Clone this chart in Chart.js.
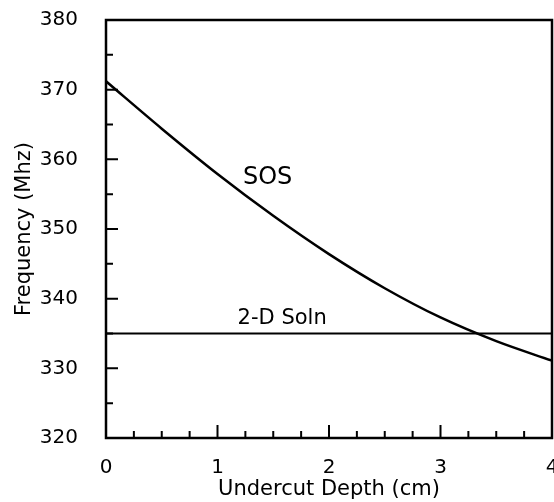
<!DOCTYPE html>
<html>
<head>
<meta charset="utf-8">
<script src="https://cdn.jsdelivr.net/npm/chart.js@4/dist/chart.umd.min.js"></script>
<style>
  html, body { margin: 0; padding: 0; background: #fff; overflow: hidden; }
  canvas { display: block; }
</style>
</head>
<body>
<canvas id="freqChart" width="554" height="502"></canvas>
<script>
// Undercut depth (cm) vs resonant frequency (MHz)
const depthCm = [0, 0.5, 1, 1.5, 2, 2.5, 3, 3.5, 4];
const sosMhz = [371.2, 364.4, 357.9, 351.9, 346.4, 341.5, 337.3, 333.9, 331.1];
const soln2dDepth = [0, 4];
const soln2dMhz = [335, 335];

// axis tick values (inward ticks drawn by plugin)
const xTickValues = [0.25, 0.5, 0.75, 1, 1.25, 1.5, 1.75, 2, 2.25, 2.5, 2.75, 3, 3.25, 3.5, 3.75];
const yTickValues = [325, 330, 335, 340, 345, 350, 355, 360, 365, 370, 375];

// curve labels, placed in data coordinates
const curveLabels = [
  { text: 'SOS', x: 1.45, y: 357.3, size: 24 },
  { text: '2-D Soln', x: 1.58, y: 337.2, size: 21 }
];

const FONT = '"DejaVu Sans", "Liberation Sans", Arial, sans-serif';

const frameAndTicks = {
  id: 'frameAndTicks',
  afterDatasetsDraw(chart) {
    const { ctx, chartArea: a, scales: { x, y } } = chart;
    ctx.save();
    ctx.strokeStyle = '#000';
    ctx.lineWidth = 2.5;
    ctx.strokeRect(a.left, a.top, a.right - a.left, a.bottom - a.top);

    ctx.lineWidth = 2;
    ctx.beginPath();
    xTickValues.forEach(v => {
      const px = x.getPixelForValue(v);
      const len = Number.isInteger(v) ? 13 : 7;
      ctx.moveTo(px, a.bottom);
      ctx.lineTo(px, a.bottom - len);
    });
    yTickValues.forEach(v => {
      const py = y.getPixelForValue(v);
      const len = v % 10 === 0 ? 12 : 7;
      ctx.moveTo(a.left, py);
      ctx.lineTo(a.left + len, py);
    });
    ctx.stroke();

    ctx.fillStyle = '#000';
    ctx.textAlign = 'center';
    ctx.textBaseline = 'middle';
    curveLabels.forEach(l => {
      ctx.font = l.size + 'px ' + FONT;
      ctx.fillText(l.text, x.getPixelForValue(l.x), y.getPixelForValue(l.y));
    });
    ctx.restore();
  }
};

new Chart(document.getElementById('freqChart'), {
  type: 'line',
  data: {
    datasets: [
      {
        label: 'SOS',
        data: depthCm.map((d, i) => ({ x: d, y: sosMhz[i] })),
        borderColor: '#000',
        borderWidth: 2.5,
        pointRadius: 0,
        cubicInterpolationMode: 'monotone'
      },
      {
        label: '2-D Soln',
        data: soln2dDepth.map((d, i) => ({ x: d, y: soln2dMhz[i] })),
        borderColor: '#000',
        borderWidth: 2,
        pointRadius: 0
      }
    ]
  },
  options: {
    responsive: false,
    animation: false,
    devicePixelRatio: 1,
    layout: { padding: { top: 20, right: 2, left: 0, bottom: 0 } },
    plugins: { legend: { display: false }, tooltip: { enabled: false } },
    scales: {
      x: {
        type: 'linear',
        min: 0, max: 4,
        grid: { display: false },
        border: { display: false },
        ticks: {
          stepSize: 1, color: '#000', padding: 10,
          font: { family: FONT, size: 20 }
        },
        title: {
          display: true, text: 'Undercut Depth (cm)', color: '#000',
          padding: 0, font: { family: FONT, size: 21 }
        },
        afterFit(s) { s.height = 64; s.paddingLeft = 0; s.paddingRight = 0; }
      },
      y: {
        min: 320, max: 380,
        grid: { display: false },
        border: { display: false },
        ticks: {
          stepSize: 10, color: '#000', padding: 20,
          font: { family: FONT, size: 20 }
        },
        title: {
          display: true, text: 'Frequency (Mhz)', color: '#000',
          padding: { top: 12, bottom: 0 }, font: { family: FONT, size: 21 }
        },
        afterFit(s) { s.width = 106; s.paddingTop = 0; s.paddingBottom = 0; }
      }
    }
  },
  plugins: [frameAndTicks]
});
</script>
</body>
</html>
